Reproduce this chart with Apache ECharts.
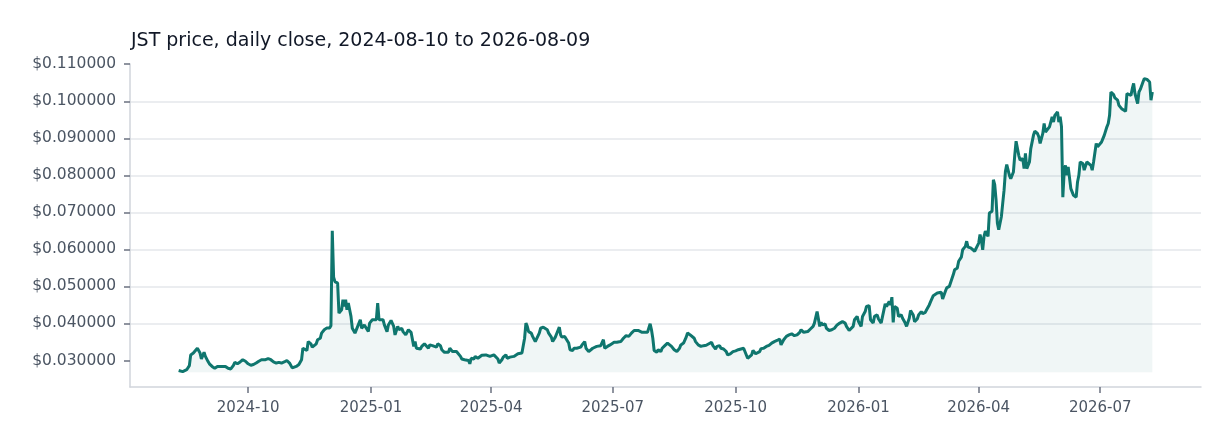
<!DOCTYPE html>
<html>
<head>
<meta charset="utf-8">
<script src="https://cdn.jsdelivr.net/npm/echarts@6/dist/echarts.min.js"></script>
<style>
html,body{margin:0;padding:0;background:#fff;}
#chart{width:1232px;height:448px;}
</style>
</head>
<body>
<div id="chart"></div>
<script>
const chartTitle = 'JST price, daily close, 2024-08-10 to 2026-08-09';
const startDate = '2024-08-10';
const endDate = '2026-08-09';
const xTickLabels = ['2024-10','2025-01','2025-04','2025-07','2025-10','2026-01','2026-04','2026-07'];
const yTickValues = [0.03,0.04,0.05,0.06,0.07,0.08,0.09,0.10,0.11];

// [days since start date, close in USD]
const closeAug2024ToJan2025 = [
[0,0.0273],[1,0.0268],[3,0.0270],[6,0.0275],[8,0.0286],[9,0.0315],[11,0.0320],[12,0.0322],[14,0.0333],[15,0.0336],
[16,0.0320],[17,0.0304],[18,0.0302],[19,0.0322],[20,0.0311],[22,0.0297],[23,0.0291],[25,0.0284],[27,0.0279],[29,0.0284],
[30,0.0288],[32,0.0284],[35,0.0284],[37,0.0279],[39,0.0277],[41,0.0287],[42,0.0295],[44,0.0291],[46,0.0296],[48,0.0302],
[50,0.0298],[52,0.0291],[54,0.0287],[56,0.0289],[58,0.0293],[60,0.0298],[62,0.0302],[63,0.0304],[65,0.0302],[67,0.0305],
[69,0.0302],[71,0.0296],[73,0.0293],[75,0.0295],[77,0.0293],[79,0.0296],[81,0.0300],[83,0.0293],[85,0.0280],[86,0.0277],
[88,0.0284],[90,0.0289],[92,0.0302],[93,0.0333],[94,0.0338],[96,0.0327],[97,0.0351],[99,0.0345],[100,0.0336],[101,0.0331],
[103,0.0345],[104,0.0356],[106,0.0360],[107,0.0374],[109,0.0383],[111,0.0388],[113,0.0388],[114,0.0394],[115,0.0650],[116,0.0525],
[117,0.0513],[119,0.0509],[120,0.0428],[122,0.0437],[123,0.0464],[124,0.0446],[125,0.0464],[126,0.0437],[127,0.0455],[129,0.0419],
[130,0.0387],[132,0.0374],[133,0.0374],[135,0.0401],[136,0.0410],[137,0.0387],[139,0.0396],[140,0.0392],[142,0.0378],[143,0.0401],
[145,0.0410],[146,0.0414],[148,0.0410],[149,0.0455],[150,0.0410]
];
const closeJan2025ToJun2025 = [
[151,0.0414],[153,0.0410],[154,0.0396],[156,0.0378],[157,0.0396],[159,0.0408],[161,0.0392],[162,0.0369],[164,0.0392],[165,0.0383],
[167,0.0387],[168,0.0378],[170,0.0369],[171,0.0374],[172,0.0383],[174,0.0376],[175,0.0378],[176,0.0338],[177,0.0351],[178,0.0333],
[179,0.0329],[181,0.0331],[182,0.0338],[184,0.0345],[185,0.0342],[187,0.0333],[188,0.0342],[190,0.0340],[191,0.0342],[193,0.0336],
[194,0.0345],[196,0.0340],[197,0.0329],[199,0.0322],[200,0.0324],[202,0.0322],[203,0.0333],[205,0.0324],[206,0.0327],[208,0.0324],
[209,0.0327],[211,0.0311],[212,0.0304],[214,0.0302],[215,0.0302],[217,0.0300],[218,0.0291],[219,0.0306],[221,0.0304],[222,0.0311],
[224,0.0306],[225,0.0309],[227,0.0314],[228,0.0311],[230,0.0315],[231,0.0313],[233,0.0311],[234,0.0313],[236,0.0315],[237,0.0318],
[239,0.0304],[240,0.0293],[242,0.0302],[243,0.0309],[245,0.0315],[246,0.0306],[248,0.0309],[249,0.0309],[251,0.0311],[252,0.0313],
[254,0.0318],[255,0.0322],[257,0.0320],[259,0.0360],[260,0.0401],[261,0.0392],[262,0.0378],[264,0.0374],[265,0.0365],[267,0.0351],
[268,0.0356],[270,0.0374],[271,0.0387],[273,0.0390],[274,0.0385],[276,0.0383],[277,0.0374],[279,0.0363],[280,0.0351],[282,0.0363],
[283,0.0372],[285,0.0390],[286,0.0369],[287,0.0363],[289,0.0365],[290,0.0360],[292,0.0347],[293,0.0329],[295,0.0327],[296,0.0333],
[298,0.0333],[299,0.0338],[301,0.0336],[302,0.0342],[304,0.0351],[305,0.0333],[307,0.0324],[308,0.0327],[310,0.0333],[311,0.0331],
[313,0.0338],[314,0.0338]
];
const closeJun2025ToDec2025 = [
[316,0.0340],[318,0.0356],[319,0.0333],[321,0.0338],[323,0.0342],[326,0.0349],[328,0.0349],[331,0.0351],[333,0.0360],[335,0.0367],
[337,0.0365],[339,0.0374],[341,0.0381],[342,0.0385],[344,0.0381],[345,0.0383],[347,0.0376],[348,0.0378],[351,0.0376],[353,0.0399],
[354,0.0383],[355,0.0360],[356,0.0327],[358,0.0322],[359,0.0329],[361,0.0324],[362,0.0333],[364,0.0340],[366,0.0347],[367,0.0342],
[369,0.0338],[371,0.0329],[373,0.0324],[375,0.0333],[376,0.0342],[378,0.0347],[380,0.0363],[381,0.0374],[383,0.0369],[384,0.0367],
[386,0.0360],[387,0.0351],[389,0.0342],[391,0.0338],[393,0.0340],[395,0.0341],[397,0.0345],[399,0.0349],[400,0.0340],[402,0.0331],
[403,0.0338],[405,0.0340],[406,0.0333],[408,0.0331],[410,0.0324],[411,0.0315],[413,0.0318],[415,0.0324],[417,0.0326],[419,0.0329],
[421,0.0331],[423,0.0333],[424,0.0331],[426,0.0306],[427,0.0304],[429,0.0315],[430,0.0327],[432,0.0318],[433,0.0313],[435,0.0324],
[436,0.0332],[438,0.0333],[440,0.0338],[442,0.0341],[444,0.0347],[446,0.0351],[448,0.0354],[450,0.0358],[451,0.0342],[453,0.0356],
[455,0.0365],[457,0.0369],[459,0.0372],[461,0.0367],[463,0.0369],[465,0.0376],[466,0.0383],[468,0.0376],[469,0.0372],[471,0.0378],
[473,0.0385],[475,0.0392],[476,0.0401],[478,0.0432],[479,0.0428],[480,0.0392]
];
const closeDec2025ToApr2026 = [
[481,0.0403],[482,0.0396],[484,0.0399],[485,0.0387],[487,0.0381],[489,0.0383],[491,0.0387],[493,0.0396],[495,0.0401],[497,0.0405],
[499,0.0401],[500,0.0392],[502,0.0381],[503,0.0381],[505,0.0392],[506,0.0410],[508,0.0419],[509,0.0405],[511,0.0392],[512,0.0419],
[514,0.0432],[515,0.0446],[517,0.0448],[518,0.0410],[520,0.0401],[521,0.0419],[523,0.0423],[524,0.0412],[526,0.0401],[527,0.0419],
[529,0.0453],[530,0.0446],[532,0.0459],[533,0.0450],[534,0.0471],[535,0.0403],[536,0.0446],[538,0.0441],[539,0.0419],[541,0.0423],
[542,0.0414],[544,0.0401],[545,0.0392],[547,0.0414],[548,0.0435],[550,0.0423],[551,0.0405],[553,0.0412],[554,0.0423],[556,0.0432],
[557,0.0426],[559,0.0430],[560,0.0437],[562,0.0450],[563,0.0459],[565,0.0475],[566,0.0480],[568,0.0482],[569,0.0482],[571,0.0484],
[572,0.0466],[574,0.0486],[575,0.0496],[577,0.0500],[578,0.0500],[580,0.0532],[581,0.0545],[583,0.0550],[584,0.0568],[586,0.0579],
[587,0.0599],[589,0.0608],[590,0.0622],[591,0.0606],[593,0.0604],[594,0.0601],[596,0.0595],[597,0.0590],[599,0.0617],[600,0.0640],
[601,0.0626],[602,0.0599],[603,0.0635],[604,0.0649],[606,0.0635],[607,0.0698],[609,0.0703],[610,0.0788],[611,0.0775],[612,0.0734],
[613,0.0671],[614,0.0653]
];
const closeApr2026ToAug2026 = [
[616,0.0689],[617,0.0725],[618,0.0760],[619,0.0810],[620,0.0829],[622,0.0800],[623,0.0791],[625,0.0809],[626,0.0854],[627,0.0892],
[629,0.0854],[630,0.0841],[632,0.0845],[633,0.0818],[634,0.0859],[635,0.0818],[637,0.0836],[638,0.0872],[640,0.0908],[641,0.0919],
[643,0.0913],[644,0.0904],[645,0.0886],[647,0.0913],[648,0.0940],[649,0.0917],[650,0.0922],[652,0.0931],[653,0.0935],[654,0.0958],
[655,0.0944],[656,0.0962],[657,0.0958],[658,0.0971],[659,0.0944],[660,0.0958],[661,0.0931],[662,0.0741],[663,0.0809],[664,0.0827],
[665,0.0800],[666,0.0823],[667,0.0818],[668,0.0764],[670,0.0746],[671,0.0748],[672,0.0741],[673,0.0782],[674,0.0800],[675,0.0836],
[677,0.0832],[678,0.0814],[680,0.0836],[681,0.0841],[683,0.0827],[684,0.0814],[685,0.0836],[687,0.0886],[688,0.0877],[689,0.0879],
[691,0.0890],[692,0.0899],[693,0.0908],[695,0.0931],[696,0.0940],[697,0.0962],[698,0.1025],[700,0.1018],[701,0.1009],[703,0.1003],
[704,0.0989],[706,0.0980],[707,0.0985],[709,0.0973],[710,0.1021],[711,0.1023],[713,0.1016],[714,0.1034],[715,0.1048],[716,0.1021],
[718,0.0994],[719,0.1025],[720,0.1032],[722,0.1052],[723,0.1061],[725,0.1059],[726,0.1054],[727,0.1052],[728,0.1003],[729,0.1025]
];

const DAY = 86400000;
const startMs = Date.parse(startDate + 'T00:00:00Z');
const endMs = Date.parse(endDate + 'T00:00:00Z');
const allCloses = [].concat(closeAug2024ToJan2025, closeJan2025ToJun2025, closeJun2025ToDec2025, closeDec2025ToApr2026, closeApr2026ToAug2026);
const seriesData = allCloses.map(p => [startMs + p[0] * DAY, p[1]]);
const vals = allCloses.map(p => p[1]);
const vMin = Math.min.apply(null, vals);
const vMax = Math.max.apply(null, vals);
const vPad = (vMax - vMin) * 0.05;
const tSpan = endMs - startMs;
const tPad = tSpan * 0.05;

function monthLabel(v) {
  const d = new Date(v);
  return d.getUTCFullYear() + '-' + String(d.getUTCMonth() + 1).padStart(2, '0');
}

const labelColor = '#4b5563';
const chart = echarts.init(document.getElementById('chart'), null, {renderer: 'canvas'});
chart.setOption({
  animation: false,
  useUTC: true,
  backgroundColor: '#ffffff',
  textStyle: {fontFamily: 'DejaVu Sans'},
  title: {
    text: chartTitle,
    left: 126,
    top: 27,
    textStyle: {fontFamily: 'DejaVu Sans', fontSize: 19, fontWeight: 'normal', color: '#111827'}
  },
  grid: {left: 130, right: 31, top: 64, bottom: 61, containLabel: false},
  xAxis: {
    type: 'time',
    min: startMs - tPad,
    max: endMs + tPad,
    splitNumber: 8,
    axisLine: {show: true, lineStyle: {color: '#d1d5db', width: 1.5}},
    axisTick: {show: true, length: 6, lineStyle: {color: '#6b7280', width: 1.5}},
    axisLabel: {
      color: labelColor, fontSize: 15, fontFamily: 'DejaVu Sans', margin: 14,
      showMinLabel: false, showMaxLabel: false,
      formatter: function (v) {
        const s = monthLabel(v);
        return xTickLabels.indexOf(s) >= 0 ? s : '';
      }
    },
    splitLine: {show: false}
  },
  yAxis: {
    type: 'value',
    min: vMin - vPad,
    max: vMax + vPad,
    axisLine: {show: true, lineStyle: {color: '#d1d5db', width: 1.5}},
    axisTick: {show: true, customValues: yTickValues, length: 6, lineStyle: {color: '#6b7280', width: 1.5}},
    axisLabel: {
      customValues: yTickValues,
      color: labelColor, fontSize: 15.5, fontFamily: 'DejaVu Sans', margin: 14,
      formatter: function (v) { return '$' + v.toFixed(6); }
    },
    splitLine: {show: true, showMinLine: false, showMaxLine: false, lineStyle: {color: '#e5e7eb', width: 1.5}}
  },
  series: [{
    type: 'line',
    data: seriesData,
    showSymbol: false,
    symbol: 'none',
    lineStyle: {color: '#0f766e', width: 3},
    itemStyle: {color: '#0f766e'},
    areaStyle: {color: 'rgba(15,118,110,0.09)', origin: vMin},
    z: 3
  }]
});
</script>
</body>
</html>
